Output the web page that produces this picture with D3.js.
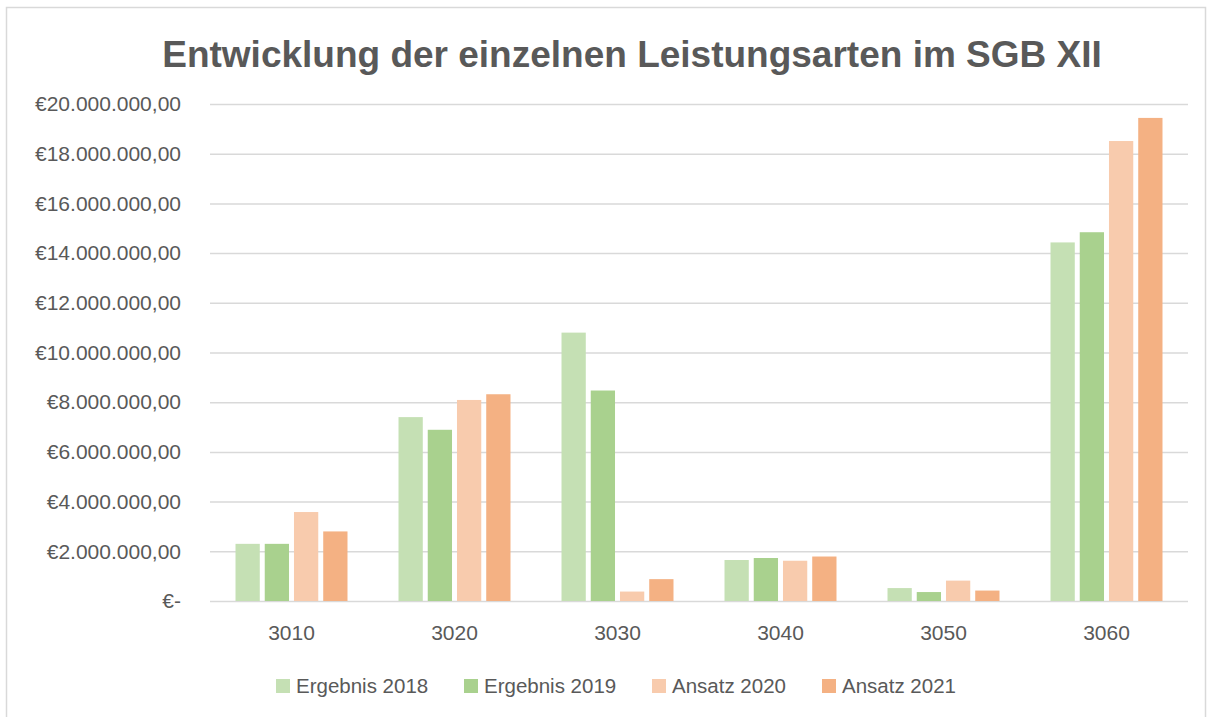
<!DOCTYPE html>
<html><head><meta charset="utf-8">
<script src="https://cdn.jsdelivr.net/npm/d3@7"></script>
<style>html,body{margin:0;padding:0;background:#fff;}svg{display:block;font-family:"Liberation Sans",Arial,sans-serif;}</style>
</head><body>
<svg id="c" width="1214" height="717"></svg>
<script>
const categories = ["3010","3020","3030","3040","3050","3060"];
const seriesNames = ["Ergebnis 2018","Ergebnis 2019","Ansatz 2020","Ansatz 2021"];
const ergebnis2018 = [2300000, 7400000, 10800000, 1650000, 520000, 14430000];
const ergebnis2019 = [2300000, 6890000, 8470000, 1730000, 360000, 14840000];
const ansatz2020   = [3580000, 8090000, 380000, 1620000, 820000, 18510000];
const ansatz2021   = [2800000, 8320000, 880000, 1790000, 420000, 19440000];
const yTicks = [0,2000000,4000000,6000000,8000000,10000000,12000000,14000000,16000000,18000000,20000000];
const colors = ["#C5E0B4","#A9D18E","#F8CBAD","#F4B183"];
const title = "Entwicklung der einzelnen Leistungsarten im SGB XII";

const seriesValues = [ergebnis2018, ergebnis2019, ansatz2020, ansatz2021];
const svg = d3.select("#c");
const pLeft = 210, pRight = 1188, pTop = 104, pBottom = 601;

svg.append("rect").attr("x",6.5).attr("y",7.5).attr("width",1199).attr("height",730)
  .attr("fill","#fff").attr("stroke","#d9d9d9").attr("stroke-width",1.5);

svg.append("text").attr("x",632).attr("y",67).attr("text-anchor","middle")
  .attr("font-size",37).attr("font-weight","bold").attr("fill","#595959").text(title);

const y = d3.scaleLinear().domain([0,20000000]).range([pBottom, pTop]);
const x0 = d3.scaleBand().domain(categories).range([pLeft,pRight]).paddingInner(0.313).paddingOuter(0.1565);
const x1 = d3.scaleBand().domain(seriesNames).range([0,x0.bandwidth()]).paddingInner(0.17).paddingOuter(0);

const locale = d3.formatLocale({decimal:",",thousands:".",grouping:[3],currency:["€",""]});
const fmt = v => v === 0 ? "€-" : "€" + locale.format(",.2f")(v);

const yAxis = d3.axisLeft(y).tickValues(yTicks).tickSize(-(pRight-pLeft)).tickPadding(29).tickFormat(fmt);
const gy = svg.append("g").attr("transform",`translate(${pLeft},0)`).call(yAxis);
gy.select(".domain").remove();
gy.selectAll(".tick line").attr("stroke","#d9d9d9").attr("stroke-width",1.5);
gy.selectAll(".tick text").attr("font-size",21).attr("fill","#595959").attr("font-family","'Liberation Sans',Arial,sans-serif");

const g = svg.append("g");
categories.forEach((c,ci)=>{
  seriesNames.forEach((s,si)=>{
    const v = seriesValues[si][ci];
    g.append("rect").attr("x",x0(c)+x1(s)).attr("y",y(v)).attr("width",x1.bandwidth())
      .attr("height",y(0)-y(v)).attr("fill",colors[si]);
  });
});

const xAxis = d3.axisBottom(x0).tickSize(0).tickPadding(24);
const gx = svg.append("g").attr("transform",`translate(0,${pBottom})`).call(xAxis);
gx.select(".domain").remove();
gx.selectAll(".tick text").attr("font-size",21).attr("fill","#595959").attr("font-family","'Liberation Sans',Arial,sans-serif");

const legendX = [276, 464, 652, 822];
const lg = svg.append("g");
seriesNames.forEach((s,i)=>{
  lg.append("rect").attr("x",legendX[i]).attr("y",679).attr("width",14).attr("height",14).attr("fill",colors[i]);
  lg.append("text").attr("x",legendX[i]+20).attr("y",693).attr("font-size",20.5).attr("fill","#595959").text(s);
});
</script>
</body></html>
